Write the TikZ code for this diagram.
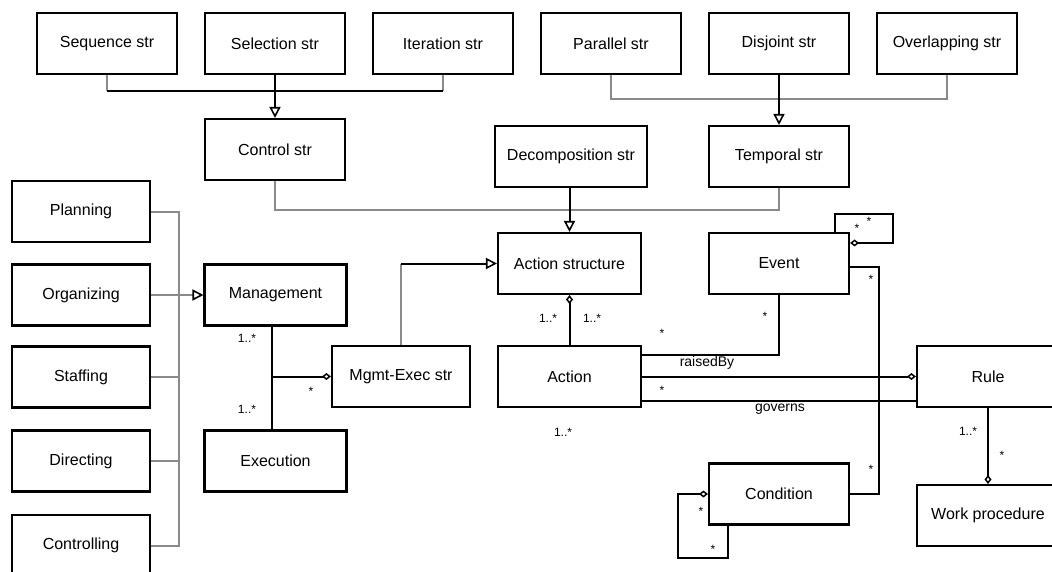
\documentclass[tikz,border=0pt]{standalone}
\usepackage{fontspec}
\setmainfont{Liberation Sans}
\usetikzlibrary{arrows.meta}
\definecolor{linegray}{HTML}{8A8A8A}
\begin{document}
\begin{tikzpicture}[x=1pt,y=-1pt,
  box/.style={draw, line width=2.1pt, minimum width=140pt, minimum height=61pt,
              inner sep=0pt, fill=white, font=\fontsize{16}{18}\selectfont},
  conn/.style={line width=2pt},
  side/.style={line width=2pt, draw=linegray},
  gen/.style={-{Triangle[open,length=11pt,width=11pt,line width=1.6pt,color=black]}},
  agg/.style={-{Diamond[open,length=9pt,width=7pt,line width=1.5pt,color=black]}},
  mult/.style={font=\fontsize{12}{14}\selectfont, inner sep=0pt},
  role/.style={font=\fontsize{14}{16}\selectfont, inner sep=0pt}
]
\useasboundingbox (0,0) rectangle (1052,571);
\clip (0,0) rectangle (1052,571);
\fill[white] (0,0) rectangle (1052,571);

% structure types
\node[box] (seq) at (107,43.5) {Sequence str};
\node[box] (sel) at (275,43.5) {Selection str};
\node[box] (ite) at (443,43.5) {Iteration str};
\node[box] (par) at (611,43.5) {Parallel str};
\node[box] (dis) at (779,43.5) {Disjoint str};
\node[box] (ove) at (947,43.5) {Overlapping str};

\node[box] (ctl) at (275,149.5) {Control str};
\node[box, minimum width=152pt] (dec) at (571,156.5) {Decomposition str};
\node[box] (tmp) at (779,156.5) {Temporal str};

% management functions
\node[box, minimum width=138pt] (pla) at (81,211.5) {Planning};
\node[box, minimum width=138pt] (org) at (81,295) {Organizing};
\node[box, minimum width=138pt] (sta) at (81,377) {Staffing};
\node[box, minimum width=138pt] (dir) at (81,461) {Directing};
\node[box, minimum width=138pt] (con) at (81,545.5) {Controlling};

\node[box, minimum width=142pt] (mgt) at (275.5,295) {Management};
\node[box, minimum width=142pt] (exe) at (275.5,461) {Execution};
\node[box, minimum width=138pt] (mex) at (401,376.5) {Mgmt-Exec str};

% actions and events
\node[box, minimum width=143pt] (ast) at (569.5,263.5) {Action structure};
\node[box] (evt) at (779,263.5) {Event};
\node[box, minimum width=143pt] (act) at (569.5,376.5) {Action};
\node[box] (cnd) at (779,494) {Condition};
\node[box, minimum width=142pt] (rul) at (988,376.5) {Rule};
\node[box, minimum width=142pt] (wpr) at (988,515.5) {Work procedure};

% generalisation of control structures
\draw[side] (seq.south) -- (seq.south |- 0,91);
\draw[side] (ite.south) -- (ite.south |- 0,91);
\draw[conn] (seq.south |- 0,91) -- (ite.south |- 0,91);
\draw[conn,gen] (sel.south) -- (ctl.north);

% generalisation of temporal structures
\draw[side] (par.south) |- (dis.south |- 0,99) -| (ove.south);
\draw[conn,gen] (dis.south) -- (tmp.north);

% generalisation of action structure
\draw[side] (ctl.south) |- (tmp.south |- 0,210) -- (tmp.south);
\draw[conn,gen] (ast.north |- dec.south) -- (ast.north);
\draw[side] (mex.north) -- (mex.north |- ast.west);
\draw[conn,gen] (mex.north |- ast.west) -- (ast.west);

% management functions
\coordinate (mj) at (179,295);
\draw[side] (pla.east) -- (pla.east -| mj) -- (con.east -| mj) -- (con.east);
\draw[side] (sta.east) -- (sta.east -| mj);
\draw[side] (dir.east) -- (dir.east -| mj);
\draw[side,gen] (org.east) -- (mgt.west);

% management / execution
\coordinate (me) at (272,376.5);
\draw[conn] (mgt.south -| me) -- (exe.north -| me);
\draw[conn,agg] (me) -- (mex.west);
\node[mult] (m1) at (247,338) {1..*};
\node[mult] (m2) at (247,409) {1..*};
\node[mult] (m3) at (311,391) {*};

% action relations
\draw[conn,agg] (act.north) -- (ast.south);
\node[mult] (m4) at (548,318) {1..*};
\node[mult] (m5) at (592,318) {1..*};
\node[mult] (m6) at (563,432) {1..*};

\draw[conn] ([yshift=22pt]act.east) -| (evt.south);
\node[mult] (m7) at (662,333) {*};
\node[mult] (m8) at (765,316) {*};
\node[role] (l1) at (707,363) {raisedBy};

\draw[conn,agg] (act.east) -- (rul.west);
\node[mult] (m9) at (662,390) {*};

\draw[conn] ([yshift=-24pt]act.east) -- ([yshift=-24pt]act.east -| rul.west);
\node[role] (l2) at (780,409) {governs};

% event relations
\draw[conn] ([yshift=-3pt]evt.east) -- ++(29,0) |- (cnd.east);
\node[mult] (m10) at (871,279) {*};
\node[mult] (m11) at (871,469) {*};

\draw[conn,agg] ([xshift=-15pt]evt.north east) -- ++(0,-18)
   -| ([xshift=43pt,yshift=-11pt]evt.north east) -- ([yshift=-11pt]evt.north east);
\node[mult] (m12) at (857,228) {*};
\node[mult] (m13) at (869,221) {*};

% condition self relation
\draw[conn,agg] ([xshift=20pt]cnd.south west) -- ++(0,32)
   -| ([xshift=-30pt]cnd.west) -- (cnd.west);
\node[mult] (m14) at (701,511) {*};
\node[mult] (m15) at (713,549) {*};

% rule / work procedure
\draw[conn,agg] (rul.south) -- (wpr.north);
\node[mult] (m16) at (968,431) {1..*};
\node[mult] (m17) at (1002,455) {*};
\end{tikzpicture}
\end{document}
